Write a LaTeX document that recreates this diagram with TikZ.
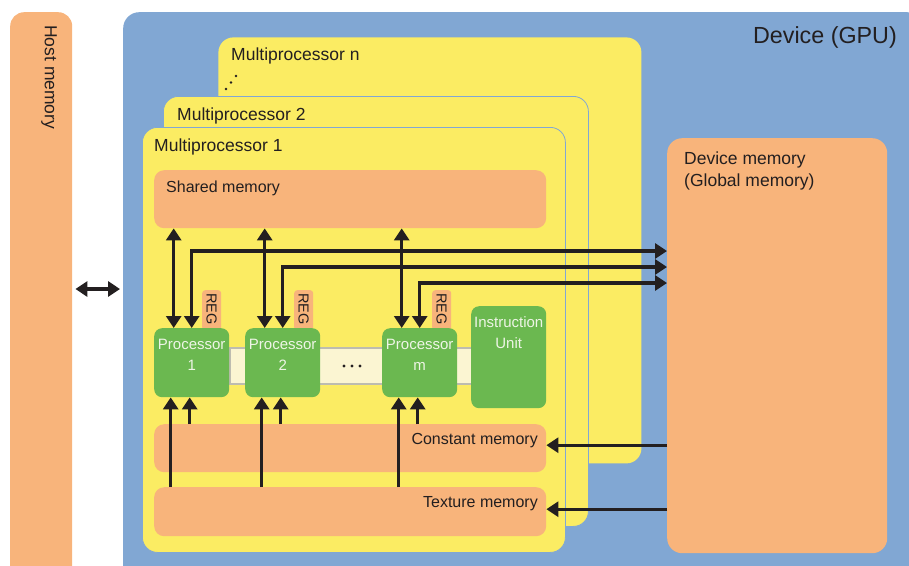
\documentclass[tikz,border=0pt]{standalone}
\usepackage{fontspec}
\setmainfont{Liberation Sans}
\usetikzlibrary{arrows.meta}
\definecolor{devblue}{HTML}{81A7D3}
\definecolor{mpyellow}{HTML}{FBEC63}
\definecolor{memorange}{HTML}{F8B47B}
\definecolor{procgreen}{HTML}{6BB850}
\definecolor{buscream}{HTML}{FBF5D2}
\definecolor{busgray}{HTML}{BDBCB0}
\definecolor{textdark}{HTML}{231F20}
\definecolor{proctext}{HTML}{EEF5E6}
\tikzset{
    base-box/.style = {rectangle, inner sep=0pt, anchor=north west},
    host-box/.style = {base-box, fill=memorange, rounded corners=14pt},
    device-box/.style = {base-box, fill=devblue, rounded corners=16pt},
    mp-box/.style = {base-box, fill=mpyellow, rounded corners=15pt, line width=0.8pt},
    mem-box/.style = {base-box, fill=memorange, rounded corners=10pt},
    bus-box/.style = {base-box, fill=buscream, draw=busgray, line width=1.5pt},
    reg-box/.style = {base-box, fill=memorange, rounded corners=3pt, minimum width=19pt, minimum height=40pt},
    proc-box/.style = {base-box, fill=procgreen, rounded corners=8pt, minimum width=75pt, minimum height=69pt},
    box-title/.style = {inner sep=0pt, text=textdark, font=\fontsize{16}{19}\selectfont},
    big-title/.style = {box-title, font=\fontsize{17.5}{22}\selectfont},
    proc-title/.style = {inner sep=0pt, text=proctext, align=center, anchor=north, font=\fontsize{15}{21}\selectfont},
    reg-title/.style = {inner sep=0pt, text=textdark, rotate=-90, font=\fontsize{14.5}{16}\selectfont},
    link-line/.style = {draw=textdark, line width=3.2pt},
    >={Triangle[length=12pt,width=15pt]},
}

\begin{document}
\begin{tikzpicture}[x=1pt, y=-1pt]
\useasboundingbox (0,0) rectangle (909,565);
\clip (0,0) rectangle (909,565);
% host and device
\node[host-box, minimum width=62pt, minimum height=600pt] (host) at (10,12) {};
\node[big-title, rotate=-90, anchor=west] at (49,25) {Host memory};
\node[device-box, minimum width=800pt, minimum height=600pt] (device) at (123,12) {};
\node[box-title, font=\fontsize{23.3}{28}\selectfont, anchor=base east] at (897,43) {Device (GPU)};

% multiprocessors
\node[mp-box, minimum width=423pt, minimum height=426pt] (mpn) at (218,37) {};
\node[big-title, anchor=base west] at (231,60) {Multiprocessor n};
\foreach \d in {0,1,2}
    \fill[textdark] (226+5*\d, 89-6.5*\d) circle (1.3pt);
\node[mp-box, draw=devblue, minimum width=425pt, minimum height=430pt] (mp2) at (163,96) {};
\node[big-title, anchor=base west] at (177,120) {Multiprocessor 2};
\node[mp-box, draw=devblue, minimum width=423pt, minimum height=425pt] (mp1) at (142,127) {};
\node[big-title, anchor=base west] at (154,151) {Multiprocessor 1};

% memories
\node[mem-box, minimum width=392pt, minimum height=58pt] (shared) at (154,170) {};
\node[box-title, anchor=base west] at (166,192) {Shared memory};
\node[mem-box, minimum width=392pt, minimum height=48pt] (const) at (154,424) {};
\node[box-title, anchor=base east] at (538,444) {Constant memory};
\node[mem-box, minimum width=392pt, minimum height=49pt] (texture) at (154,487) {};
\node[box-title, anchor=base east] at (538,507) {Texture memory};
\node[mem-box, rounded corners=15pt, minimum width=220pt, minimum height=415pt] (devmem) at (667,138) {};
\node[big-title, align=left, anchor=north west] at (684,152) {Device memory\\(Global memory)};

% bus, registers and processors
\node[bus-box, minimum width=242pt, minimum height=36pt] (bus) at (229,347) {};
\foreach \x/\n in {202/p1, 294/p2, 432/pm} {
    \node[reg-box] (reg-\n) at (\x,290) {};
    \node[reg-title] at ([yshift=1pt]reg-\n.center) {REG};
}
\node[proc-box] (p1) at (154,328) {};
\node[proc-box] (p2) at (245,328) {};
\node[proc-box] (pm) at (382,328) {};
\node[proc-box, minimum height=102pt] (inst) at (471,306) {};
\node[proc-title] at ([yshift=-11pt]p1.north) {Processor\\1};
\node[proc-title] at ([yshift=-11pt]p2.north) {Processor\\2};
\node[proc-title] at ([yshift=-11pt]pm.north) {Processor\\m};
\node[proc-title] at ([yshift=-10pt]inst.north) {Instruction\\Unit};
\foreach \d in {0,1,2}
    \fill[textdark] (344+8*\d, 366) circle (1.6pt);

% connectors
\coordinate (link) at (0,289);
\draw[link-line, <->, shorten <=3pt, shorten >=3pt] (host.east |- link) -- (device.west |- link);
\foreach \p/\y in {p1/251, p2/267, pm/283} {
    \path ([xshift=-18pt]\p.north) coordinate (\p-sh)
          ([xshift=-21pt]\p.south) coordinate (\p-tx)
          ([xshift=-2pt]\p.south) coordinate (\p-co);
    \draw[link-line, <->] (\p-sh) -- (\p-sh |- shared.south);
    \draw[link-line, <->] (\p.north) |- (devmem.west |- 0,\y);
    \draw[link-line, ->] (\p-tx |- texture.north) -- (\p-tx);
    \draw[link-line, ->] (\p-co |- const.north) -- (\p-co);
}
\path ([yshift=3pt]const.east) coordinate (co-in)
      ([yshift=2.5pt]texture.east) coordinate (tx-in);
\draw[link-line, ->] (co-in -| devmem.west) -- (co-in);
\draw[link-line, ->] (tx-in -| devmem.west) -- (tx-in);
\end{tikzpicture}
\end{document}
